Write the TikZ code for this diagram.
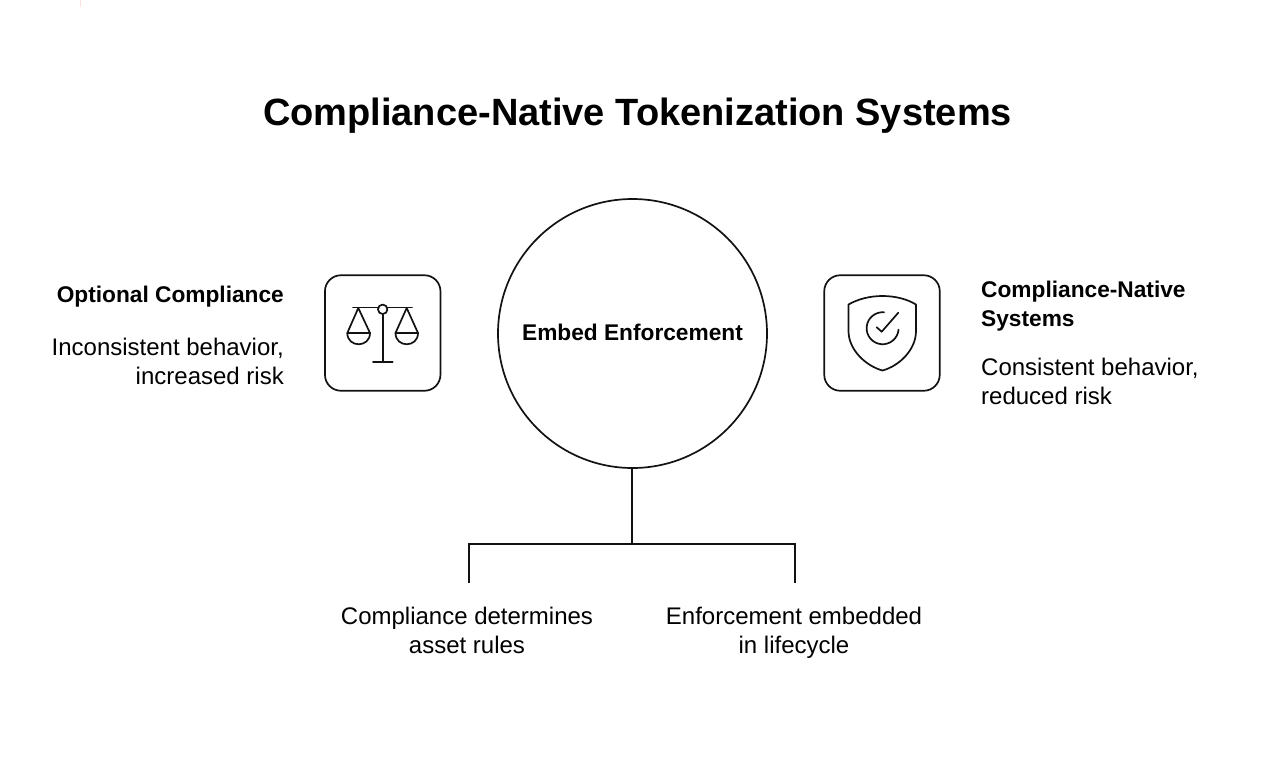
\documentclass[tikz,border=0pt]{standalone}
\usepackage{fontspec}
\setmainfont{Liberation Sans}
\tikzset{
  ink/.style={draw=black!93,line width=1.7pt,line cap=round,line join=round},
  body/.style={inner sep=0pt,font=\fontsize{24}{29}\selectfont},
  heading/.style={inner sep=0pt,font=\fontsize{22.7}{29}\selectfont\bfseries},
  iconbox/.style={ink,rounded corners=16pt,minimum width=115.5pt,minimum height=115.5pt,inner sep=0pt},
}
\begin{document}
\begin{tikzpicture}[x=1pt,y=-1pt]
\useasboundingbox (0,0) rectangle (1284,782);
\fill[white] (0,0) rectangle (1284,782);
\draw[red!12,line width=1.5pt] (80.5,0) -- (80.5,7);
\node[inner sep=0pt,anchor=base,font=\fontsize{38}{44}\selectfont\bfseries] (title) at (637.5,125) {Compliance-Native Tokenization Systems};
\node[ink,circle,minimum size=269pt,inner sep=0pt] (hub) at (632.5,333.5) {};
\node[heading,anchor=base] (hubtext) at (632.5,340.5) {Embed Enforcement};
% left
\node[iconbox] (scalebox) at (382.7,333) {};
\node[heading,anchor=base east] (lefthead) at (284,302.5) {Optional Compliance};
\node[body,align=right,anchor=north east] (leftbody) at (284,338) {Inconsistent behavior,\\increased risk};
\draw[ink] (353,307.5) -- (378,307.5) (387.5,307.5) -- (412,307.5);
\node[ink,circle,minimum size=9.5pt,inner sep=0pt] (pivot) at (382.7,309.3) {};
\coordinate (postend) at (382.7,361.7);
\draw[ink] (pivot) -- (postend);
\draw[ink] (373,361.7) -- (392.7,361.7);
\draw[ink] (347.3,333) -- (358.3,308) -- (370,333) -- cycle;
\draw[ink] (347.3,333) .. controls (347.3,348) and (370,348) .. (370,333);
\draw[ink] (395.5,333) -- (406.7,308) -- (418,333) -- cycle;
\draw[ink] (395.5,333) .. controls (395.5,348) and (418,348) .. (418,333);
% right
\node[iconbox] (shieldbox) at (882,333) {};
\node[heading,align=left,anchor=north west] (righthead) at (981,281) {Compliance-Native\\Systems};
\node[body,align=left,anchor=north west] (rightbody) at (981,357.5) {Consistent behavior,\\reduced risk};
\draw[ink] (882.5,296) .. controls (870,296) and (858,299) .. (848.5,304.5)
  -- (848.5,331) .. controls (848.5,350) and (866,366) .. (882.5,370.5)
  .. controls (899,366) and (916,350) .. (916,331) -- (916,304.5)
  .. controls (907,299) and (895,296) .. (882.5,296) -- cycle;
\draw[ink] (884,312.3) arc[start angle=-85,end angle=-355,radius=16];
\draw[ink] (876.7,327.3) -- (881.7,331.7) -- (898.3,312.7);
% connector
\coordinate (junction) at (632.2,544.3);
\coordinate (leftend) at (469,583);
\coordinate (rightend) at (795.3,583);
\draw[ink,line cap=butt] (hub.south -| junction) -- (junction);
\draw[ink,line cap=butt,line join=miter] (leftend) |- (rightend |- junction) -- (rightend);
\node[body,align=center,anchor=north] (lefttext) at (467,607) {Compliance determines\\asset rules};
\node[body,align=center,anchor=north] (righttext) at (794,607) {Enforcement embedded\\in lifecycle};
\end{tikzpicture}
\end{document}
